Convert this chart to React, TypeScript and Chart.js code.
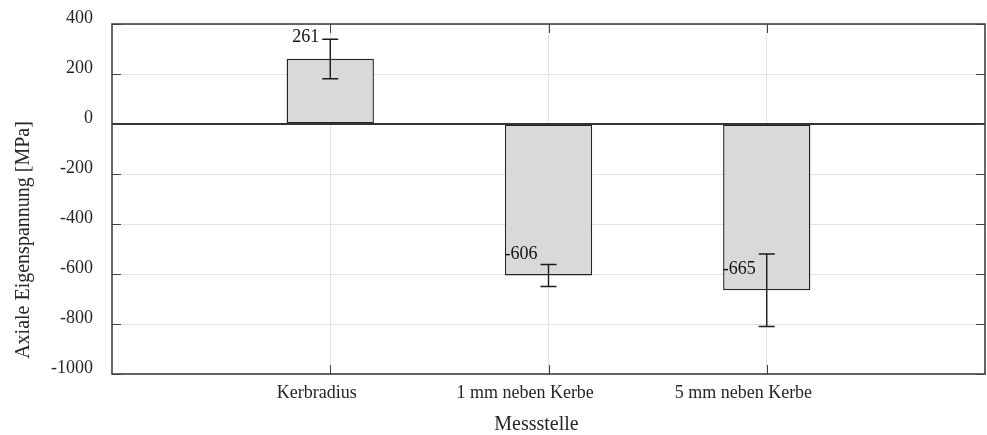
import React, { useEffect, useRef } from 'react';
import { Chart, registerables } from 'chart.js';

Chart.register(...registerables);

// Measurement locations and residual stress results
const categories = ['Kerbradius', '1 mm neben Kerbe', '5 mm neben Kerbe'];
const meanStress = [261, -606, -665];
const errorLow = [181, -650, -810];
const errorHigh = [339, -562, -520];

// Value axis settings
const yMin = -1000;
const yMax = 400;
const yStep = 200;

const yTitle = 'Axiale Eigenspannung [MPa]';
const xTitle = 'Messstelle';

const SERIF = '"Liberation Serif", "Times New Roman", Times, serif';
const AXIS_COLOR = '#404040';
const TEXT_COLOR = '#262626';
const GRID_COLOR = '#e3e3e3';

// Empty slots on both ends give the category axis its side margins
const slotLabels = ['', ...categories, ''];
const slotValues = [null, ...meanStress, null];

const overlayPlugin = {
  id: 'measurementOverlay',
  afterDatasetsDraw(chart: any) {
    const { ctx, chartArea: a, scales } = chart;
    const xs = scales.x;
    const ys = scales.y;
    ctx.save();

    // Baseline at zero
    const y0 = ys.getPixelForValue(0);
    ctx.strokeStyle = '#333333';
    ctx.lineWidth = 2;
    ctx.beginPath();
    ctx.moveTo(a.left, y0);
    ctx.lineTo(a.right, y0);
    ctx.stroke();

    // Error bars
    ctx.strokeStyle = '#1a1a1a';
    ctx.lineWidth = 1.4;
    const cap = 8;
    meanStress.forEach((_, i) => {
      const px = xs.getPixelForValue(i + 1);
      const lo = ys.getPixelForValue(errorLow[i]);
      const hi = ys.getPixelForValue(errorHigh[i]);
      ctx.beginPath();
      ctx.moveTo(px, lo);
      ctx.lineTo(px, hi);
      ctx.moveTo(px - cap, lo);
      ctx.lineTo(px + cap, lo);
      ctx.moveTo(px - cap, hi);
      ctx.lineTo(px + cap, hi);
      ctx.stroke();
    });

    // Value labels
    ctx.fillStyle = '#111111';
    ctx.font = `18px ${SERIF}`;
    ctx.textAlign = 'right';
    ctx.textBaseline = 'middle';
    meanStress.forEach((v, i) => {
      const px = xs.getPixelForValue(i + 1);
      const py = ys.getPixelForValue(v);
      ctx.fillText(String(v), px - 11, py - 21);
    });

    // Plot box
    ctx.strokeStyle = AXIS_COLOR;
    ctx.lineWidth = 1.6;
    ctx.strokeRect(a.left, a.top, a.right - a.left, a.bottom - a.top);

    // Inward tick marks on all four sides
    const tl = 9;
    ctx.lineWidth = 1;
    ctx.beginPath();
    for (let v = yMin; v <= yMax; v += yStep) {
      const py = Math.round(ys.getPixelForValue(v)) + 0.5;
      ctx.moveTo(a.left, py);
      ctx.lineTo(a.left + tl, py);
      ctx.moveTo(a.right, py);
      ctx.lineTo(a.right - tl, py);
    }
    categories.forEach((_, i) => {
      const px = Math.round(xs.getPixelForValue(i + 1)) + 0.5;
      ctx.moveTo(px, a.top);
      ctx.lineTo(px, a.top + tl);
      ctx.moveTo(px, a.bottom);
      ctx.lineTo(px, a.bottom - tl);
    });
    ctx.stroke();

    // Category labels
    ctx.fillStyle = TEXT_COLOR;
    ctx.font = `18px ${SERIF}`;
    ctx.textAlign = 'left';
    ctx.textBaseline = 'alphabetic';
    categories.forEach((c, i) => {
      const px = xs.getPixelForValue(i + 1);
      const w = ctx.measureText(c).width;
      ctx.fillText(c, px - w * 0.67, a.bottom + 23.5);
    });

    // Axis titles
    ctx.font = `20px ${SERIF}`;
    ctx.textAlign = 'center';
    ctx.fillText(xTitle, (a.left + a.right) / 2 - 12, a.bottom + 56);

    ctx.translate(29, (a.top + a.bottom) / 2 + 41);
    ctx.rotate(-Math.PI / 2);
    ctx.fillText(yTitle, 0, 0);

    ctx.restore();
  },
};

export default function App() {
  const canvasRef = useRef<HTMLCanvasElement | null>(null);

  useEffect(() => {
    document.body.style.margin = '0';
    const canvas = canvasRef.current;
    if (!canvas) return;

    const chart = new Chart(canvas, {
      type: 'bar',
      data: {
        labels: slotLabels,
        datasets: [
          {
            data: slotValues as any,
            backgroundColor: '#d9d9d9',
            borderColor: '#262626',
            borderWidth: 1.4,
            borderSkipped: false,
            barPercentage: 1,
            categoryPercentage: 0.4,
          },
        ],
      },
      options: {
        animation: false,
        responsive: true,
        maintainAspectRatio: false,
        layout: { padding: { top: 24, right: 2, left: 0, bottom: 0 } },
        plugins: {
          legend: { display: false },
          tooltip: { enabled: false },
          title: { display: false },
        },
        scales: {
          x: {
            type: 'category',
            offset: false,
            border: { display: false },
            grid: {
              offset: false,
              drawTicks: false,
              color: (ctx: any) =>
                ctx.index === 0 || ctx.index === slotLabels.length - 1 ? 'rgba(0,0,0,0)' : GRID_COLOR,
              lineWidth: 1,
            },
            ticks: { display: false },
            afterFit: (scale: any) => {
              scale.height = 61;
              scale.paddingLeft = 0;
              scale.paddingRight = 0;
            },
          },
          y: {
            min: yMin,
            max: yMax,
            border: { display: false },
            grid: { drawTicks: false, color: GRID_COLOR, lineWidth: 1 },
            ticks: {
              stepSize: yStep,
              padding: 19,
              labelOffset: -6,
              color: TEXT_COLOR,
              font: { family: SERIF, size: 18 },
              callback: (v: any) => String(v),
            },
            afterFit: (scale: any) => {
              scale.width = 112;
              scale.paddingTop = 0;
              scale.paddingBottom = 0;
            },
          },
        },
      },
      plugins: [overlayPlugin],
    });

    return () => chart.destroy();
  }, []);

  return (
    <div style={{ position: 'fixed', left: 0, top: 0, width: 987, height: 435, background: '#ffffff' }}>
      <canvas ref={canvasRef} />
    </div>
  );
}
